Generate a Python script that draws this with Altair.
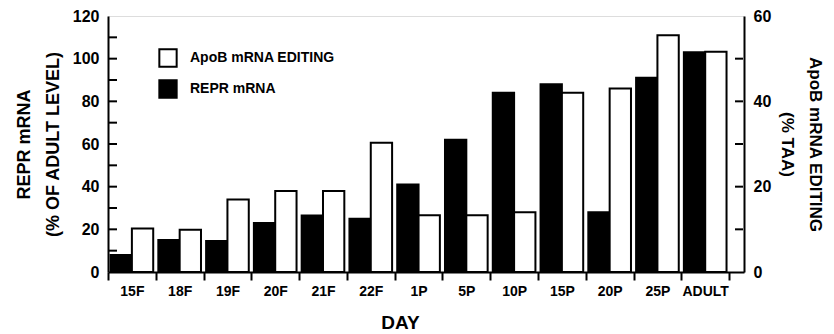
import altair as alt
import pandas as pd

# ---- data ----
days = ["15F", "18F", "19F", "20F", "21F", "22F", "1P", "5P", "10P", "15P", "20P", "25P", "ADULT"]
repr_mrna = [8, 15, 14.5, 23, 26.5, 25, 41, 62, 84, 88, 28, 91, 103]          # left axis, % of adult level
apob_editing = [10.2, 9.9, 17, 19, 19, 30.3, 13.3, 13.3, 14, 42, 43, 55.5, 51.6]  # right axis, % TAA
left_tick_values = [10, 20, 30, 40, 50, 60, 70, 80, 90, 100, 110]
right_tick_values = [10, 20, 30, 40, 50]
left_label_values = [0, 20, 40, 60, 80, 100, 120]
right_label_values = [0, 20, 40, 60]
legend_order = ["ApoB mRNA EDITING", "REPR mRNA"]
bar_order = ["REPR mRNA", "ApoB mRNA EDITING"]

W, H = 636, 256
FONT = "Liberation Sans"

df_repr = pd.DataFrame({"day": days, "series": "REPR mRNA", "value": repr_mrna})
df_apob = pd.DataFrame({"day": days, "series": "ApoB mRNA EDITING", "value": apob_editing})
df_lt = pd.DataFrame({"v": left_tick_values})
df_rt = pd.DataFrame({"v": right_tick_values})

x_enc = alt.X(
    "day:N", sort=days, title="DAY",
    scale=alt.Scale(paddingInner=0, paddingOuter=0.156, align=0),
    axis=alt.Axis(
        labelAngle=0, tickBand="extent", tickSize=8, tickWidth=2, tickColor="black",
        domainWidth=2, domainColor="black", labelFont=FONT, labelFontSize=14,
        labelFontWeight="bold", labelColor="black", labelPadding=4,
        titleFont=FONT, titleFontSize=19, titleFontWeight="bold", titleColor="black",
        titlePadding=15, titleX=292,
    ),
)
xoff = alt.XOffset("series:N", scale=alt.Scale(domain=bar_order, paddingOuter=0.12, paddingInner=0))
color = alt.Color(
    "series:N",
    scale=alt.Scale(domain=legend_order, range=["white", "black"]),
    legend=alt.Legend(
        title=None, orient="none", legendX=50, legendY=32, symbolType="square",
        symbolSize=300, symbolStrokeColor="black", symbolStrokeWidth=2,
        labelFont=FONT, labelFontSize=14, labelFontWeight="bold", labelColor="black",
        rowPadding=5, labelOffset=12, padding=0,
    ),
)

left_scale = alt.Scale(domain=[0, 120], nice=False, zero=True)
right_scale = alt.Scale(domain=[0, 60], nice=False, zero=True)

def y_axis(orient, title, values, tpad, tsize, tlh):
    return alt.Axis(
        orient=orient, title=title, values=values, tickSize=0, grid=False,
        domainWidth=2, domainColor="black", labelPadding=9, labelFont=FONT,
        labelFontSize=16, labelFontWeight="bold", labelColor="black",
        titleFont=FONT, titleFontSize=tsize, titleFontWeight="bold", titleColor="black",
        titlePadding=tpad, titleLineHeight=tlh,
    )

left_axis = y_axis("left", ["REPR mRNA", "(% OF ADULT LEVEL)"], left_label_values, 10, 18, 29)
right_axis = y_axis("right", ["ApoB mRNA EDITING", "(% TAA)"], right_label_values, 7, 17, 28)

black_bars = alt.Chart(df_repr).mark_bar(stroke="black", strokeWidth=2).encode(
    x=x_enc, xOffset=xoff,
    y=alt.Y("value:Q", scale=left_scale, axis=left_axis),
    color=color,
)
left_ticks = alt.Chart(df_lt).mark_rule(color="black", strokeWidth=2).encode(
    y=alt.Y("v:Q", scale=left_scale, axis=left_axis),
    x=alt.value(1), x2=alt.value(9),
)
white_bars = alt.Chart(df_apob).mark_bar(stroke="black", strokeWidth=2).encode(
    x=x_enc, xOffset=xoff,
    y=alt.Y("value:Q", scale=right_scale, axis=right_axis),
    color=color,
)
right_ticks = alt.Chart(df_rt).mark_rule(color="black", strokeWidth=2).encode(
    y=alt.Y("v:Q", scale=right_scale, axis=right_axis),
    x=alt.value(W - 1), x2=alt.value(W - 9),
)

left = alt.layer(black_bars, left_ticks)
right = alt.layer(white_bars, right_ticks)

chart = (
    alt.layer(left, right)
    .resolve_scale(y="independent")
    .properties(width=W, height=H, padding={"left": 7, "top": 0, "right": 0, "bottom": 0},
                background="white")
    .configure_view(stroke="black", strokeWidth=2)
    .configure(font=FONT)
)

chart.save("out.html", embed_options={"renderer": "svg", "actions": False})
